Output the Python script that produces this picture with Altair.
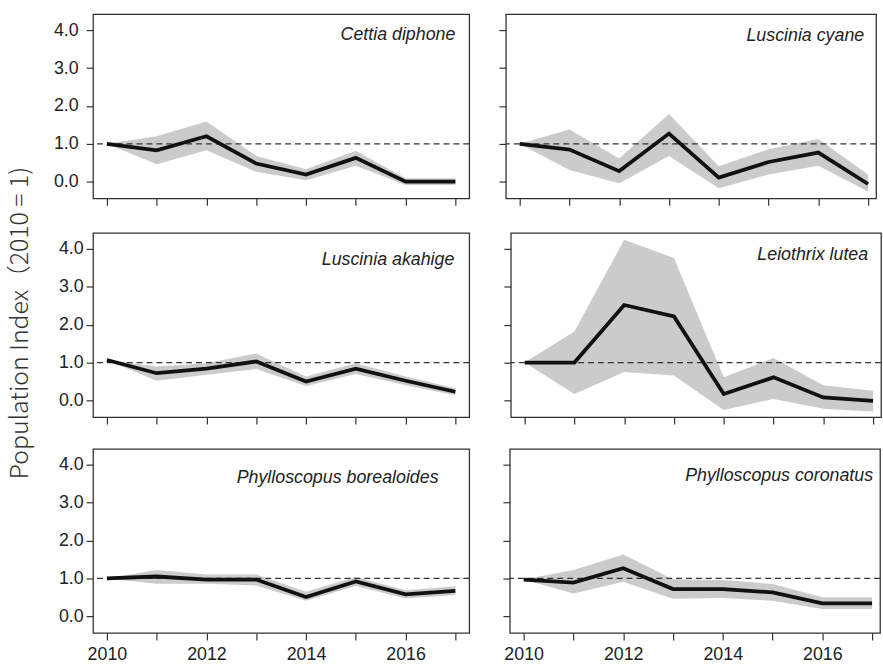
import altair as alt
import pandas as pd

years = [2010, 2011, 2012, 2013, 2014, 2015, 2016, 2017]

species = ["Cettia diphone", "Luscinia cyane", "Luscinia akahige",
           "Leiothrix lutea", "Phylloscopus borealoides", "Phylloscopus coronatus"]

cettia_mean = [1.0, 0.83, 1.20, 0.48, 0.19, 0.63, 0.00, 0.00]
cettia_low = [1.0, 0.46, 0.83, 0.26, 0.04, 0.42, -0.09, -0.09]
cettia_high = [1.0, 1.20, 1.59, 0.68, 0.33, 0.82, 0.09, 0.09]

cyane_mean = [1.0, 0.85, 0.28, 1.27, 0.11, 0.52, 0.77, -0.06]
cyane_low = [1.0, 0.31, -0.04, 0.68, -0.17, 0.19, 0.42, -0.26]
cyane_high = [1.0, 1.38, 0.61, 1.79, 0.41, 0.86, 1.13, 0.19]

akahige_mean = [1.07, 0.72, 0.84, 1.03, 0.50, 0.84, 0.52, 0.23]
akahige_low = [1.07, 0.52, 0.68, 0.83, 0.38, 0.70, 0.40, 0.14]
akahige_high = [1.07, 0.90, 0.98, 1.24, 0.63, 0.98, 0.63, 0.32]

lutea_mean = [1.0, 1.0, 2.52, 2.22, 0.17, 0.61, 0.08, -0.01]
lutea_low = [1.0, 0.17, 0.75, 0.66, -0.25, 0.04, -0.22, -0.29]
lutea_high = [1.0, 1.82, 4.24, 3.76, 0.61, 1.12, 0.40, 0.26]

borealoides_mean = [1.0, 1.05, 0.97, 0.97, 0.51, 0.92, 0.58, 0.67]
borealoides_low = [1.0, 0.86, 0.86, 0.81, 0.41, 0.80, 0.47, 0.56]
borealoides_high = [1.0, 1.22, 1.10, 1.10, 0.65, 1.04, 0.69, 0.79]

coronatus_mean = [0.97, 0.89, 1.27, 0.72, 0.72, 0.63, 0.34, 0.34]
coronatus_low = [0.97, 0.60, 0.91, 0.46, 0.48, 0.41, 0.19, 0.19]
coronatus_high = [0.97, 1.22, 1.63, 0.98, 0.96, 0.85, 0.50, 0.50]

series = [
    (cettia_mean, cettia_low, cettia_high),
    (cyane_mean, cyane_low, cyane_high),
    (akahige_mean, akahige_low, akahige_high),
    (lutea_mean, lutea_low, lutea_high),
    (borealoides_mean, borealoides_low, borealoides_high),
    (coronatus_mean, coronatus_low, coronatus_high),
]

y_ticks = [0, 1, 2, 3, 4]
reference_level = [1]

LABEL_FONT = "Liberation Sans"
H = 186
Y_DOMAIN = [-0.44, 4.42]

# per panel: (width, x domain, label padding, text right inset, text y)
panel_style = [
    (380, [2009.722, 2017.278], 8, 14, 21),
    (374, [2009.722, 2017.16], 3, 12, 22),
    (380, [2009.722, 2017.278], 3, 15, 27),
    (374, [2009.722, 2017.16], 3, 13, 22),
    (380, [2009.722, 2017.278], 3, 31, 30),
    (374, [2009.722, 2017.16], 3, 7, 28),
]


def panel(i):
    name = species[i]
    mean, low, high = series[i]
    w, xdom, lpad, tdx, ty = panel_style[i]
    col = i % 2
    row = i // 2
    df = pd.DataFrame({"year": years, "mean": mean, "low": low, "high": high})

    x_axis = alt.Axis(
        values=years, title=None, grid=False, domain=False, tickSize=7,
        labels=(row == 2), labelPadding=6,
        labelExpr="datum.value % 2 === 0 ? format(datum.value, 'd') : ''",
        labelOverlap=False, labelFlush=False,
    )
    y_axis = alt.Axis(
        values=y_ticks, title=None, grid=False, domain=False, tickSize=7,
        labels=(col == 0), labelPadding=lpad, format=".1f",
    )
    xs = alt.Scale(domain=xdom, nice=False, zero=False)
    ys = alt.Scale(domain=Y_DOMAIN, nice=False, zero=False)

    base = alt.Chart(df)
    band = base.mark_area(color="#cbcbcb", opacity=1).encode(
        x=alt.X("year:Q", scale=xs, axis=x_axis),
        y=alt.Y("low:Q", scale=ys, axis=y_axis),
        y2="high:Q",
    )
    ref = alt.Chart(pd.DataFrame({"ref": reference_level})).mark_rule(
        color="#333333", strokeDash=[6, 4], strokeWidth=1.3
    ).encode(y=alt.Y("ref:Q", scale=ys, axis=y_axis))
    line = base.mark_line(color="#111111", strokeWidth=3.8, strokeJoin="miter").encode(
        x=alt.X("year:Q", scale=xs, axis=x_axis),
        y=alt.Y("mean:Q", scale=ys, axis=y_axis),
    )
    label = alt.Chart(pd.DataFrame({"name": [name]})).mark_text(
        align="right", baseline="middle", font=LABEL_FONT, fontSize=18,
        fontStyle="italic", color="#222222",
    ).encode(x=alt.value(w - tdx), y=alt.value(ty), text="name:N")

    return alt.layer(band, ref, line, label).properties(width=w, height=H)


row1 = alt.hconcat(panel(0), panel(1), spacing=26)
row2 = alt.hconcat(panel(2), panel(3), spacing=31)
row3 = alt.hconcat(panel(4), panel(5), spacing=30)

chart = alt.vconcat(
    alt.vconcat(row1, row2, spacing=25),
    row3,
    spacing=22,
).properties(
    title=alt.TitleParams(
        text="Population Index（2010 = 1)",
        orient="left", anchor="middle", offset=20, dx=16,
        font="Noto Sans CJK JP", fontSize=25, fontWeight=300, color="#333333",
    ),
    padding={"left": 8, "top": 10, "right": 0, "bottom": 0},
).configure_view(
    stroke="#333333", strokeWidth=1.3
).configure_axis(
    labelFont=LABEL_FONT, labelFontSize=18, labelColor="#222222",
    tickColor="#333333", tickWidth=1.2,
)

chart.save("out.html", embed_options={"renderer": "svg", "actions": False})
